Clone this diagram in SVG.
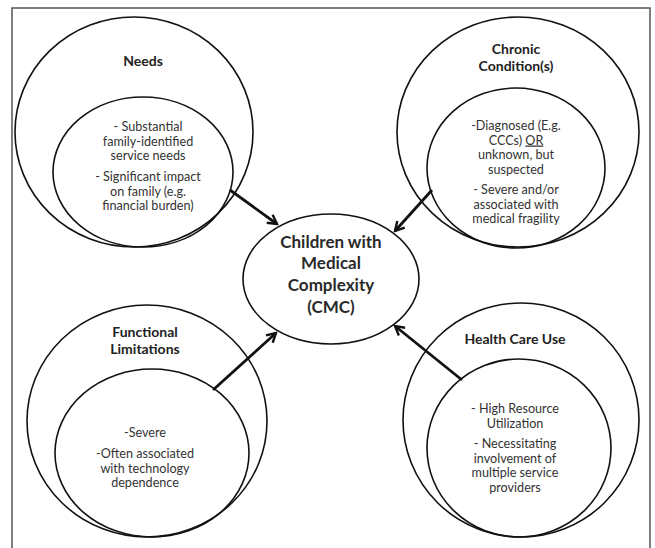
<svg xmlns="http://www.w3.org/2000/svg" width="655" height="548" viewBox="0 0 655 548">
<defs>
<style>
.c{fill:none;stroke:#111;stroke-width:1.6}
.t{font-family:Lato,"Liberation Sans",sans-serif;font-size:12.6px;fill:#333;text-anchor:middle}
.h{font-family:Lato,"Liberation Sans",sans-serif;font-size:14px;font-weight:bold;fill:#222;text-anchor:middle}
.m{font-family:Lato,"Liberation Sans",sans-serif;font-size:17px;font-weight:bold;fill:#2a2a2a;text-anchor:middle}
.a{fill:none;stroke:#111;stroke-width:2.8}
</style>
<marker id="ah" viewBox="0 0 12 12" refX="10" refY="6" markerWidth="12" markerHeight="12" markerUnits="userSpaceOnUse" orient="auto">
<path d="M1,1 L10,6 L1,11" fill="none" stroke="#111" stroke-width="2.4"/>
</marker>
</defs>
<rect x="12" y="8" width="638" height="550" fill="#fff" stroke="#555" stroke-width="1.5"/>

<g id="needs">
<ellipse class="c" cx="134" cy="132" rx="119" ry="115"/>
<ellipse class="c" cx="143" cy="172" rx="90" ry="75"/>
<text class="h" x="143" y="66">Needs</text>
<text class="t" x="148" y="131">- Substantial</text>
<text class="t" x="148" y="145.5">family-identified</text>
<text class="t" x="148" y="160">service needs</text>
<text class="t" x="148" y="181">- Significant impact</text>
<text class="t" x="148" y="195.5">on family (e.g.</text>
<text class="t" x="148" y="210">financial burden)</text>
</g>

<g id="chronic">
<ellipse class="c" cx="518" cy="132" rx="121" ry="115"/>
<ellipse class="c" cx="516" cy="168" rx="89" ry="80"/>
<text class="h" x="516" y="54">Chronic</text>
<text class="h" x="516" y="71">Condition(s)</text>
<text class="t" x="516" y="130">-Diagnosed (E.g.</text>
<text class="t" x="516" y="144.5">CCCs) <tspan text-decoration="underline">OR</tspan></text>
<text class="t" x="516" y="159">unknown, but</text>
<text class="t" x="516" y="173.5">suspected</text>
<text class="t" x="516" y="194">- Severe and/or</text>
<text class="t" x="516" y="208.5">associated with</text>
<text class="t" x="516" y="223">medical fragility</text>
</g>

<g id="functional">
<ellipse class="c" cx="147" cy="421" rx="120" ry="116"/>
<ellipse class="c" cx="152" cy="453" rx="97" ry="84"/>
<text class="h" x="145" y="337">Functional</text>
<text class="h" x="145" y="354">Limitations</text>
<text class="t" x="145" y="437">-Severe</text>
<text class="t" x="145" y="458">-Often associated</text>
<text class="t" x="145" y="472.5">with technology</text>
<text class="t" x="145" y="487">dependence</text>
</g>

<g id="healthcare">
<ellipse class="c" cx="521" cy="420" rx="118" ry="117"/>
<ellipse class="c" cx="519" cy="448" rx="92" ry="89"/>
<text class="h" x="515" y="344">Health Care Use</text>
<text class="t" x="515" y="413">- High Resource</text>
<text class="t" x="515" y="427.5">Utilization</text>
<text class="t" x="515" y="448">- Necessitating</text>
<text class="t" x="515" y="462.5">involvement of</text>
<text class="t" x="515" y="477">multiple service</text>
<text class="t" x="515" y="491.5">providers</text>
</g>

<g id="cmc">
<ellipse class="c" cx="331" cy="279" rx="88" ry="65"/>
<text class="m" x="331" y="248">Children with</text>
<text class="m" x="331" y="269">Medical</text>
<text class="m" x="331" y="291">Complexity</text>
<text class="m" x="331" y="313">(CMC)</text>
</g>

<g id="connectors">
<line class="a" x1="230" y1="190" x2="277" y2="224" marker-end="url(#ah)"/>
<line class="a" x1="432" y1="190" x2="395" y2="231" marker-end="url(#ah)"/>
<line class="a" x1="213" y1="390" x2="276" y2="333" marker-end="url(#ah)"/>
<line class="a" x1="462" y1="380" x2="395" y2="326" marker-end="url(#ah)"/>
</g>
</svg>
